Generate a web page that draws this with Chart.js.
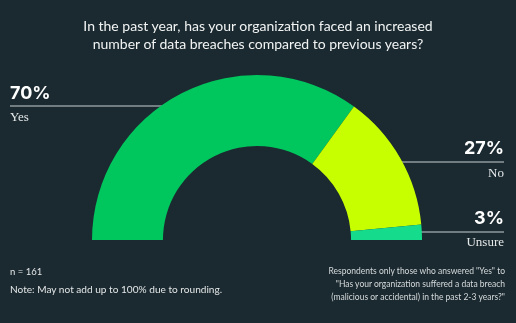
<!DOCTYPE html>
<html><head><meta charset="utf-8">
<script src="https://cdn.jsdelivr.net/npm/chart.js@4"></script>
<style>
html,body{margin:0;padding:0;background:#1b2a30;}
#wrap{position:relative;width:516px;height:323px;overflow:hidden;background:#1b2a30;font-family:Lato,"Noto Sans",sans-serif;}
canvas{position:absolute;left:0;top:0;}
.t{position:absolute;white-space:nowrap;color:#fff;}
#title{left:0;width:516px;top:17px;text-align:center;font-size:14px;line-height:18px;color:#f2f4f4;}
.pct{font-family:Inter,sans-serif;font-weight:700;font-size:18px;line-height:20px;}
.lab{font-family:"Liberation Serif","DejaVu Serif",serif;font-size:13px;line-height:14px;color:#e6e9ea;}
.small{font-size:9.5px;line-height:13px;color:#e3e6e7;}
.r{text-align:right;}
</style></head><body>
<div id="wrap">
<canvas id="c" width="516" height="323"></canvas>
<div id="title" class="t">In the past year, has your organization faced an increased<br>number of data breaches compared to previous years?</div>
<div class="t pct" style="left:10px;top:83px;" id="p0"></div>
<div class="t lab" style="left:10px;top:110px;" id="l0"></div>
<div class="t pct r" style="right:12px;top:138px;" id="p1"></div>
<div class="t lab r" style="right:12px;top:166px;" id="l1"></div>
<div class="t pct r" style="right:12px;top:208px;" id="p2"></div>
<div class="t lab r" style="right:12px;top:235px;" id="l2"></div>
<div class="t small" style="left:10px;top:265px;">n = 161</div>
<div class="t small" style="left:10px;top:283px;font-size:10.1px;">Note: May not add up to 100% due to rounding.</div>
<div class="t small r" style="right:11px;top:265px;color:#d5dadc;font-size:8.5px;">Respondents only those who answered "Yes" to<br>"Has your organization suffered a data breach<br>(malicious or accidental) in the past 2-3 years?"</div>
</div>
<script>
const categories = ["Yes", "No", "Unsure"];
const values = [70, 27, 3];
const colors = ["#00c65e", "#c8ff00", "#14dc8c"];

categories.forEach((c,i)=>{
  document.getElementById('p'+i).textContent = values[i] + '%';
  document.getElementById('l'+i).textContent = c;
});

const leaderLines = {
  id: 'leaders',
  beforeDatasetsDraw(chart){
    const ctx = chart.ctx;
    ctx.save();
    ctx.strokeStyle = '#c9cfd1';
    ctx.lineWidth = 1.2;
    const segs = [[10,106,200],[504,162,380],[504,232,365]];
    segs.forEach(s=>{
      ctx.beginPath();
      ctx.moveTo(s[0], s[1]);
      ctx.lineTo(s[2], s[1]);
      ctx.stroke();
    });
    ctx.restore();
  }
};

new Chart(document.getElementById('c'), {
  type: 'doughnut',
  data: {
    labels: categories,
    datasets: [{
      data: values,
      backgroundColor: colors,
      borderWidth: 0
    }]
  },
  options: {
    responsive: false,
    animation: false,
    rotation: -90,
    circumference: 180,
    cutout: '57%',
    layout: { padding: { left: 92, right: 94, top: 75, bottom: 83 } },
    plugins: { legend: { display: false }, tooltip: { enabled: false } }
  },
  plugins: [leaderLines]
});
</script>
</body></html>
